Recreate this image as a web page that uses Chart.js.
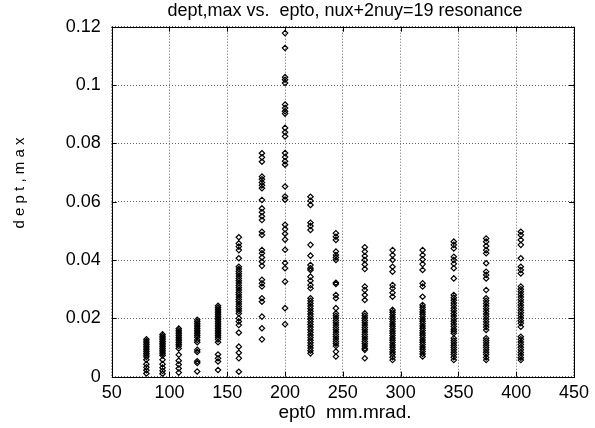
<!DOCTYPE html>
<html>
<head>
<meta charset="utf-8">
<script src="https://cdn.jsdelivr.net/npm/chart.js@4.4.1/dist/chart.umd.min.js"></script>
<style>
  html, body { margin: 0; padding: 0; background: #fff; }
  #wrap { width: 595px; height: 428px; }
</style>
</head>
<body>
<div id="wrap"><canvas id="chart" width="595" height="428"></canvas></div>
<script>
// ept0 (mm.mrad.) of each column of points
const eptCols = [80, 94, 108, 124, 142, 160, 180, 200, 222, 244, 269, 293, 319, 346, 374, 404];

// dept,max values
const dept80  = [0.0128, 0.0122, 0.0116, 0.011, 0.0104, 0.0098, 0.0092, 0.0086, 0.008, 0.0074, 0.0068, 0.0058, 0.0043, 0.0032, 0.0022, 0.0011];
const dept94  = [0.0145, 0.0139, 0.0133, 0.0127, 0.0121, 0.0115, 0.0109, 0.0103, 0.0097, 0.0091, 0.0085, 0.0079, 0.0073, 0.0058, 0.0043, 0.0031, 0.002, 0.001];
const dept108 = [0.0165, 0.0159, 0.0153, 0.0147, 0.0141, 0.0135, 0.0129, 0.0123, 0.0117, 0.0111, 0.0105, 0.0097, 0.0075, 0.0055, 0.0042, 0.0028, 0.0014];
const dept124 = [0.0195, 0.0189, 0.0183, 0.0177, 0.0171, 0.0165, 0.0159, 0.0153, 0.0147, 0.0141, 0.0135, 0.0126, 0.0118, 0.0092, 0.0085, 0.0053, 0.0047, 0.0018];
const dept142 = [0.0243, 0.0237, 0.0231, 0.0225, 0.0219, 0.0213, 0.0207, 0.0201, 0.0195, 0.0189, 0.0183, 0.0177, 0.0171, 0.0165, 0.0159, 0.0153, 0.0147, 0.0141, 0.0135, 0.0128, 0.0118, 0.0076, 0.0063, 0.0052, 0.0023];
const dept160 = [0.0478, 0.0457, 0.0446, 0.0434, 0.0406, 0.0377, 0.0369, 0.0361, 0.0353, 0.0345, 0.0337, 0.0329, 0.0321, 0.0313, 0.0305, 0.0297, 0.0289, 0.0281, 0.0273, 0.0265, 0.0257, 0.0249, 0.0241, 0.0233, 0.0225, 0.0217, 0.02, 0.0189, 0.0177, 0.0151, 0.0103, 0.0082, 0.0063, 0.0017];
const dept180 = [0.0766, 0.0752, 0.0737, 0.0686, 0.0677, 0.0666, 0.0656, 0.0646, 0.0606, 0.0577, 0.0564, 0.055, 0.0537, 0.0497, 0.0486, 0.0434, 0.0423, 0.0409, 0.0394, 0.038, 0.0332, 0.032, 0.0309, 0.0269, 0.0257, 0.0206, 0.0166, 0.0128];
const dept200 = [0.1178, 0.1127, 0.1027, 0.1018, 0.1007, 0.0933, 0.0921, 0.091, 0.0902, 0.0853, 0.0838, 0.0824, 0.0767, 0.0753, 0.0739, 0.0727, 0.0652, 0.0618, 0.0607, 0.0521, 0.0506, 0.049, 0.047, 0.0435, 0.039, 0.0372, 0.0326, 0.0235, 0.018];
const dept222 = [0.0617, 0.0603, 0.0589, 0.0528, 0.0517, 0.0503, 0.0452, 0.0415, 0.0383, 0.0372, 0.0366, 0.0343, 0.0329, 0.0314, 0.0303, 0.0269, 0.026, 0.0251, 0.0242, 0.0233, 0.0224, 0.0215, 0.0206, 0.0197, 0.0188, 0.0179, 0.017, 0.0161, 0.0152, 0.0143, 0.0134, 0.0125, 0.0116, 0.0107, 0.0098, 0.0089, 0.008];
const dept244 = [0.0492, 0.048, 0.0469, 0.0429, 0.0417, 0.0409, 0.04, 0.0322, 0.0318, 0.028, 0.0269, 0.0235, 0.0217, 0.0209, 0.0201, 0.0193, 0.0185, 0.0177, 0.0169, 0.0161, 0.0153, 0.0145, 0.0137, 0.0129, 0.0121, 0.0113, 0.0105, 0.0086, 0.0069];
const dept269 = [0.0444, 0.0429, 0.0414, 0.04, 0.0385, 0.0369, 0.0309, 0.0297, 0.028, 0.0263, 0.0217, 0.0209, 0.0201, 0.0193, 0.0185, 0.0177, 0.0169, 0.0161, 0.0153, 0.0145, 0.0137, 0.0129, 0.0121, 0.0113, 0.0105, 0.0097, 0.0092, 0.0063];
const dept293 = [0.0434, 0.0417, 0.04, 0.0377, 0.036, 0.0314, 0.0303, 0.0288, 0.0274, 0.0229, 0.0221, 0.0213, 0.0205, 0.0197, 0.0189, 0.0181, 0.0173, 0.0165, 0.0157, 0.0149, 0.0141, 0.0133, 0.0125, 0.0117, 0.0109, 0.0101, 0.0093, 0.0085, 0.0077, 0.0067, 0.0057];
const dept319 = [0.0434, 0.0417, 0.0402, 0.0386, 0.0366, 0.032, 0.0309, 0.0274, 0.0246, 0.0238, 0.023, 0.0222, 0.0214, 0.0206, 0.0198, 0.019, 0.0182, 0.0174, 0.0166, 0.0158, 0.015, 0.0142, 0.0134, 0.0126, 0.0118, 0.011, 0.0102, 0.0094, 0.0086, 0.0078, 0.0069];
const dept346 = [0.0463, 0.0452, 0.044, 0.0411, 0.04, 0.0387, 0.0372, 0.0337, 0.028, 0.0271, 0.0262, 0.0253, 0.0244, 0.0235, 0.0226, 0.0217, 0.0208, 0.0199, 0.019, 0.0181, 0.0172, 0.0163, 0.0156, 0.0149, 0.0132, 0.0124, 0.0116, 0.0108, 0.01, 0.0092, 0.0084, 0.0076, 0.0067, 0.0057];
const dept374 = [0.0474, 0.0463, 0.0448, 0.0434, 0.0423, 0.0389, 0.036, 0.0349, 0.0337, 0.0297, 0.0269, 0.026, 0.0251, 0.0242, 0.0233, 0.0224, 0.0215, 0.0206, 0.0197, 0.0188, 0.0179, 0.017, 0.016, 0.0132, 0.0124, 0.0116, 0.0108, 0.01, 0.0092, 0.0084, 0.0076, 0.0066, 0.0057];
const dept404 = [0.0497, 0.0486, 0.0469, 0.0452, 0.0406, 0.0377, 0.0366, 0.0354, 0.0309, 0.03, 0.0291, 0.0282, 0.0273, 0.0264, 0.0255, 0.0246, 0.0237, 0.0228, 0.0219, 0.021, 0.0201, 0.0192, 0.0183, 0.0171, 0.0137, 0.0128, 0.0119, 0.011, 0.0101, 0.0092, 0.0083, 0.0074, 0.0065, 0.0057];

const deptCols = [dept80, dept94, dept108, dept124, dept142, dept160, dept180, dept200,
                  dept222, dept244, dept269, dept293, dept319, dept346, dept374, dept404];

const xTicks = [50, 100, 150, 200, 250, 300, 350, 400, 450];
const yTickLabels = ['0', '0.02', '0.04', '0.06', '0.08', '0.1', '0.12'];

const titleText = 'dept,max vs.  epto, nux+2nuy=19 resonance';
const xTitle = 'ept0  mm.mrad.';
const yTitle = 'd e p t , m a x';

const FONT = '"Liberation Sans", Arial, Helvetica, sans-serif';

// points for the scatter dataset
const points = [];
eptCols.forEach((x, i) => {
    deptCols[i].forEach(y => points.push({ x: x, y: y }));
});

// box, inward ticks and the text labels (gnuplot look)
const framePlugin = {
    id: 'frame',
    afterDraw(chart) {
        const ctx = chart.ctx;
        const a = chart.chartArea;
        const xs = chart.scales.x, ys = chart.scales.y;
        ctx.save();
        ctx.strokeStyle = '#000';
        ctx.lineWidth = 1;
        ctx.strokeRect(Math.round(a.left) + 0.5, Math.round(a.top) + 0.5,
                       Math.round(a.right - a.left), Math.round(a.bottom - a.top));
        ctx.beginPath();
        xTicks.forEach(v => {
            const px = Math.round(xs.getPixelForValue(v)) + 0.5;
            ctx.moveTo(px, a.bottom); ctx.lineTo(px, a.bottom - 5);
            ctx.moveTo(px, a.top); ctx.lineTo(px, a.top + 5);
        });
        yTickLabels.forEach((t, i) => {
            const py = Math.round(ys.getPixelForValue(i * 0.02)) + 0.5;
            ctx.moveTo(a.left, py); ctx.lineTo(a.left + 5, py);
            ctx.moveTo(a.right, py); ctx.lineTo(a.right - 5, py);
        });
        ctx.stroke();

        ctx.fillStyle = '#000';
        ctx.textAlign = 'center';
        ctx.textBaseline = 'middle';
        ctx.font = '18px ' + FONT;
        ctx.fillText(titleText, 345, 11);
        ctx.font = '19px ' + FONT;
        ctx.fillText(xTitle, 345, 413);
        ctx.translate(20, 183);
        ctx.rotate(-Math.PI / 2);
        ctx.font = '15px ' + FONT;
        ctx.fillText(yTitle, 0, 0);
        ctx.restore();
    }
};

document.addEventListener('DOMContentLoaded', function () {
    const ctx = document.getElementById('chart').getContext('2d');
    new Chart(ctx, {
        type: 'scatter',
        data: {
            datasets: [{
                label: 'dept,max',
                data: points,
                pointStyle: 'rectRot',
                pointRadius: 2.7,
                pointBorderWidth: 1.2,
                pointBorderColor: '#000',
                pointBackgroundColor: 'rgba(255,255,255,0)'
            }]
        },
        options: {
            responsive: false,
            animation: false,
            layout: { padding: { top: 26.7, right: 16.7, left: 0, bottom: 0 } },
            plugins: {
                legend: { display: false },
                tooltip: { enabled: false }
            },
            scales: {
                x: {
                    type: 'linear',
                    min: 50, max: 450,
                    afterBuildTicks: s => { s.ticks = xTicks.map(v => ({ value: v })); },
                    afterFit: s => { s.height = 51.3; },
                    ticks: { color: '#000', font: { family: FONT, size: 18 }, padding: 6, maxRotation: 0 },
                    grid: { color: '#666', lineWidth: 1, drawTicks: false },
                    border: { display: false, dash: [1, 2] }
                },
                y: {
                    type: 'linear',
                    min: 0, max: 0.12,
                    afterBuildTicks: s => { s.ticks = yTickLabels.map((t, i) => ({ value: i * 0.02 })); },
                    afterFit: s => { s.width = 111.7; },
                    ticks: {
                        color: '#000', font: { family: FONT, size: 18 }, padding: 11,
                        callback: (v, i) => yTickLabels[i]
                    },
                    grid: { color: '#666', lineWidth: 1, drawTicks: false },
                    border: { display: false, dash: [1, 2] }
                }
            }
        },
        plugins: [framePlugin]
    });
});
</script>
</body>
</html>
